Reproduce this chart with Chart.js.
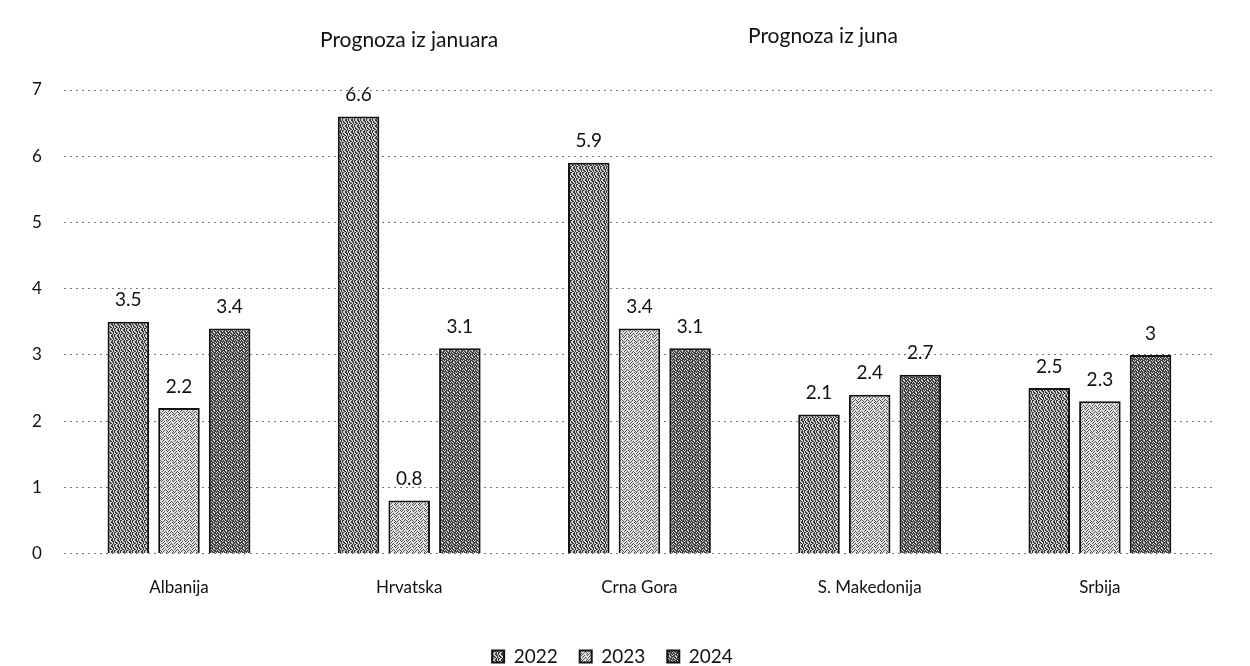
<!DOCTYPE html>
<html>
<head>
<meta charset="utf-8">
<script src="https://cdn.jsdelivr.net/npm/chart.js@4"></script>
<style>
    html, body {margin: 0; padding: 0; background: #fff; overflow: hidden;}
    #wrap {position: relative; width: 1250px; height: 676px;}
    .hdr {position: absolute; font-family: Lato, "Open Sans", sans-serif; font-size: 21px; color: #111;}
</style>
</head>
<body>
<div id="wrap">
    <canvas id="chart" width="1250" height="676"></canvas>
    <div class="hdr" style="left:320px; top:26px;">Prognoza iz januara</div>
    <div class="hdr" style="left:748px; top:22px;">Prognoza iz juna</div>
</div>
<script>
const countries = ['Albanija', 'Hrvatska', 'Crna Gora', 'S. Makedonija', 'Srbija'];
const years = ['2022', '2023', '2024'];
const values2022 = [3.5, 6.6, 5.9, 2.1, 2.5];
const values2023 = [2.2, 0.8, 3.4, 2.4, 2.3];
const values2024 = [3.4, 3.1, 3.1, 2.7, 3];
const yTicks = [0, 1, 2, 3, 4, 5, 6, 7];

// fixed speckle textures to mimic the scanned fill
function makePattern(bg, fg, bits) {
    const c = document.createElement('canvas');
    c.width = 6;
    c.height = 6;
    const ctx = c.getContext('2d');
    ctx.fillStyle = bg;
    ctx.fillRect(0, 0, 6, 6);
    ctx.fillStyle = fg;
    for (let i = 0; i < 36; i++) {
        if (bits[i] === '1') ctx.fillRect(i % 6, Math.floor(i / 6), 1, 1);
    }
    return ctx.createPattern(c, 'repeat');
}

const fills = [
    makePattern('#cfcfcf', '#3a3a3a', '100110010011011001001101110010100110'),
    makePattern('#e0e0e0', '#555555', '100010001001010000100100001010010001'),
    makePattern('#444444', '#cfcfcf', '010001100100000110010010101000000100')
];

const valueLabels = {
    id: 'valueLabels',
    afterDatasetsDraw(chart) {
        const ctx = chart.ctx;
        ctx.save();
        ctx.font = '19px Lato, "Open Sans", sans-serif';
        ctx.fillStyle = '#111';
        ctx.textAlign = 'center';
        ctx.textBaseline = 'bottom';
        chart.data.datasets.forEach((ds, i) => {
            chart.getDatasetMeta(i).data.forEach((bar, j) => {
                ctx.fillText(String(ds.data[j]), bar.x, bar.y - 12);
            });
        });
        ctx.restore();
    }
};

new Chart(document.getElementById('chart').getContext('2d'), {
    type: 'bar',
    data: {
        labels: countries,
        datasets: [
            {label: years[0], data: values2022, backgroundColor: fills[0]},
            {label: years[1], data: values2023, backgroundColor: fills[1]},
            {label: years[2], data: values2024, backgroundColor: fills[2]}
        ].map(ds => ({...ds, borderColor: '#111', borderWidth: 2, categoryPercentage: 0.66, barPercentage: 0.82}))
    },
    options: {
        responsive: false,
        animation: false,
        layout: {padding: {top: 90, right: 35, left: 10, bottom: 0}},
        plugins: {
            legend: {
                position: 'bottom',
                labels: {
                    font: {family: 'Lato, "Open Sans", sans-serif', size: 19},
                    color: '#111',
                    boxWidth: 12,
                    boxHeight: 12,
                    padding: 22
                }
            },
            tooltip: {enabled: false}
        },
        scales: {
            x: {
                grid: {display: false},
                border: {display: false},
                ticks: {
                    font: {family: 'Lato, "Open Sans", sans-serif', size: 17},
                    color: '#111',
                    padding: 16
                },
                afterFit: (axis) => {
                    axis.height += 11;
                }
            },
            y: {
                min: 0,
                max: 7,
                afterBuildTicks: (axis) => {
                    axis.ticks = yTicks.map(v => ({value: v}));
                },
                border: {display: false, dash: [2, 4]},
                grid: {color: '#777777', lineWidth: 1, drawTicks: false},
                ticks: {
                    font: {family: 'Lato, "Open Sans", sans-serif', size: 17},
                    color: '#111',
                    padding: 22
                }
            }
        }
    },
    plugins: [valueLabels]
});
</script>
</body>
</html>
